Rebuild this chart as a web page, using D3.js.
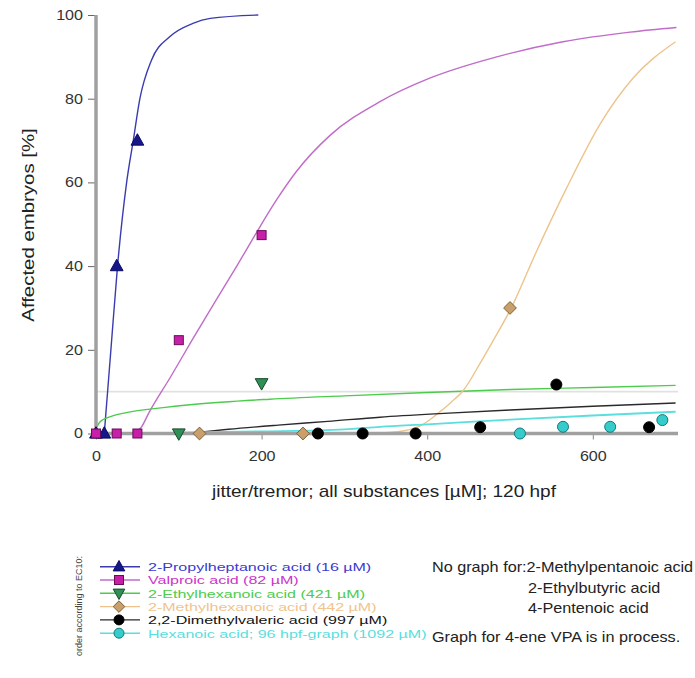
<!DOCTYPE html>
<html>
<head>
<meta charset="utf-8">
<script src="https://cdn.jsdelivr.net/npm/d3@7"></script>
<style>
  html, body { margin: 0; padding: 0; background: #fff; }
  svg { display: block; font-family: "Liberation Sans", Arial, sans-serif; }
</style>
</head>
<body>
<svg id="chart" width="695" height="678"></svg>
<script>
// ---- data -------------------------------------------------------------
const seriesNames = [
  "2-Propylheptanoic acid (16 µM)",
  "Valproic acid (82 µM)",
  "2-Ethylhexanoic acid (421 µM)",
  "2-Methylhexanoic acid (442 µM)",
  "2,2-Dimethylvaleric acid (997 µM)",
  "Hexanoic acid; 96 hpf-graph (1092 µM)"
];
const xTicks = [0, 200, 400, 600];
const yTicks = [0, 20, 40, 60, 80, 100];
const thresholdLevel = 10;

// measured responses (concentration µM, affected %)
const propylX = [0, 10, 25, 50];
const propylY = [0, 0, 40, 70];
const valproicX = [0, 25, 50, 100, 200];
const valproicY = [0, 0, 0, 22.3, 47.4];
const ethylhexX = [100, 200];
const ethylhexY = [0, 12];
const methylhexX = [125, 250, 500];
const methylhexY = [0, 0, 30];
const dimethylX = [268, 322, 386, 464, 556, 668];
const dimethylY = [0, 0, 0, 1.5, 11.7, 1.5];
const hexanoicX = [512, 564, 621, 684];
const hexanoicY = [0, 1.6, 1.6, 3.2];

// fitted concentration-response curves
const propylFitX = [10, 18, 26, 37, 45, 53, 67, 89, 117, 138, 196];
const propylFitY = [0, 20, 40, 60, 70, 80, 89.2, 94.8, 98, 99.2, 100];
const valproicFitX = [45, 55, 64, 90, 116, 143, 170, 192, 218, 242, 283, 343, 403, 484, 564, 645, 701];
const valproicFitY = [0, 1.6, 5, 13.5, 22.3, 31.2, 40, 47.4, 55.8, 62.6, 71.3, 79.3, 84.9, 90, 93.6, 95.9, 97];
const ethylhexFitX = [1, 5, 20, 40, 73, 120, 210, 300, 400, 500, 600, 700];
const ethylhexFitY = [1.6, 2.8, 4.2, 5.1, 6.0, 7.0, 8.2, 9.0, 9.8, 10.5, 11.0, 11.5];
const methylhexFitX = [340, 370, 395, 411, 428, 444, 464, 480, 501, 532, 568, 609, 649, 700];
const methylhexFitY = [0.1, 0.6, 2.2, 4.5, 7.3, 10.4, 16.8, 22.3, 29.8, 43.5, 58.5, 74, 85, 93.6];
const dimethylFitX = [120, 160, 220, 280, 343, 420, 500, 600, 700];
const dimethylFitY = [0.2, 1.0, 2.0, 2.9, 3.9, 4.8, 5.6, 6.5, 7.3];
const hexanoicFitX = [100, 200, 300, 343, 400, 500, 600, 700];
const hexanoicFitY = [0.2, 0.5, 1.0, 1.6, 2.2, 3.3, 4.3, 5.2];

const notes = [
  "No graph for:2-Methylpentanoic acid",
  "2-Ethylbutyric acid",
  "4-Pentenoic acid",
  "Graph for 4-ene VPA is in process."
];

// ---- styling per series --------------------------------------------------
const styles = [
  { shape: "tri",    fill: "#17178c", stroke: "#0a0a60", line: "#3b3bb0", text: "#3a3ad0" },
  { shape: "square", fill: "#c81fa8", stroke: "#6a0a5a", line: "#c06cc8", text: "#cc33cc" },
  { shape: "tridown",fill: "#2f8f55", stroke: "#164a2a", line: "#4ccc4c", text: "#4ccc4c" },
  { shape: "diamond",fill: "#c9a06c", stroke: "#7e5f38", line: "#ecc48c", text: "#f0c48c" },
  { shape: "circle", fill: "#000000", stroke: "#000000", line: "#2a2a2a", text: "#111111" },
  { shape: "circle", fill: "#36cccc", stroke: "#137878", line: "#5adede", text: "#5adede" }
];

const zip = (xs, ys) => xs.map((v, i) => [v, ys[i]]);
const points = [
  zip(propylX, propylY), zip(valproicX, valproicY), zip(ethylhexX, ethylhexY),
  zip(methylhexX, methylhexY), zip(dimethylX, dimethylY), zip(hexanoicX, hexanoicY)
];
const fits = [
  zip(propylFitX, propylFitY), zip(valproicFitX, valproicFitY), zip(ethylhexFitX, ethylhexFitY),
  zip(methylhexFitX, methylhexFitY), zip(dimethylFitX, dimethylFitY), zip(hexanoicFitX, hexanoicFitY)
];

// ---- layout -------------------------------------------------------------
const svg = d3.select("#chart");
const x = d3.scaleLinear().domain([0, 700]).range([96, 675.6]);
const y = d3.scaleLinear().domain([0, 100]).range([433.5, 15]);
const axisEnd = 678;

// widen text horizontally around its anchor point
function widen(sel, k) {
  sel.each(function () {
    const t = d3.select(this);
    const tx = +t.attr("x") || 0, ty = +t.attr("y") || 0;
    t.attr("transform", `translate(${tx},${ty}) scale(${k},1) translate(${-tx},${-ty})`);
  });
}

function marker(g, shape, size) {
  const s = size;
  if (shape === "tri") {
    g.append("path").attr("d", `M0,${-s * 0.62}L${s * 0.58},${s * 0.42}L${-s * 0.58},${s * 0.42}Z`);
  } else if (shape === "tridown") {
    g.append("path").attr("d", `M0,${s * 0.62}L${s * 0.58},${-s * 0.42}L${-s * 0.58},${-s * 0.42}Z`);
  } else if (shape === "square") {
    g.append("rect").attr("x", -s * 0.45).attr("y", -s * 0.45).attr("width", s * 0.9).attr("height", s * 0.9);
  } else if (shape === "diamond") {
    g.append("path").attr("d", `M0,${-s * 0.58}L${s * 0.58},0L0,${s * 0.58}L${-s * 0.58},0Z`);
  } else {
    g.append("circle").attr("r", s * 0.5);
  }
}

// threshold reference line at 10 %
svg.append("line")
  .attr("x1", x(0)).attr("x2", axisEnd)
  .attr("y1", y(thresholdLevel)).attr("y2", y(thresholdLevel))
  .attr("stroke", "#dde3dd").attr("stroke-width", 1.6);

// fitted curves
const lineGen = d3.line().x(d => x(d[0])).y(d => y(d[1])).curve(d3.curveMonotoneX);
svg.append("g").selectAll("path").data(fits).join("path")
  .attr("d", lineGen)
  .attr("fill", "none")
  .attr("stroke", (d, i) => styles[i].line)
  .attr("stroke-width", (d, i) => i === 5 ? 1.8 : 1.4);

// axes
const yAxis = svg.append("g").attr("transform", `translate(${x(0)},0)`)
  .call(d3.axisLeft(y).tickValues(yTicks).tickSize(8).tickPadding(5));
yAxis.select(".domain").remove();
yAxis.selectAll(".tick line").attr("stroke", "#666");
yAxis.selectAll("text").attr("font-size", 14).attr("fill", "#333")
  .attr("font-family", "Liberation Sans, Arial, sans-serif");
widen(yAxis.selectAll("text"), 1.15);

const xAxis = svg.append("g").attr("transform", `translate(0,${y(0)})`)
  .call(d3.axisBottom(x).tickValues(xTicks).tickSize(6).tickPadding(12));
xAxis.select(".domain").remove();
xAxis.selectAll(".tick line").attr("stroke", "#888");
xAxis.selectAll("text").attr("font-size", 14).attr("fill", "#333")
  .attr("font-family", "Liberation Sans, Arial, sans-serif");
widen(xAxis.selectAll("text"), 1.15);

svg.append("line").attr("x1", x(0)).attr("x2", x(0)).attr("y1", y(100)).attr("y2", y(0) + 1.5)
  .attr("stroke", "#a0a0a0").attr("stroke-width", 3.5);
svg.append("line").attr("x1", x(0) - 1.5).attr("x2", axisEnd).attr("y1", y(0)).attr("y2", y(0))
  .attr("stroke", "#a0a0a0").attr("stroke-width", 3.5);

// data points
points.forEach((pts, i) => {
  const st = styles[i];
  pts.forEach(p => {
    const g = svg.append("g")
      .attr("transform", `translate(${x(p[0])},${y(p[1])})`)
      .attr("fill", st.fill).attr("stroke", st.stroke).attr("stroke-width", 1);
    marker(g, st.shape, st.shape === "square" ? 10 : 11);
  });
});

// axis titles
svg.append("text")
  .attr("transform", "translate(34,225) rotate(-90) scale(1.2,1)")
  .attr("text-anchor", "middle")
  .attr("font-size", 17).attr("fill", "#222")
  .text("Affected embryos [%]");
svg.append("text")
  .attr("x", 384).attr("y", 497)
  .attr("text-anchor", "middle")
  .attr("font-size", 17).attr("fill", "#222")
  .text("jitter/tremor; all substances [µM]; 120 hpf")
  .call(widen, 1.12);

// legend
const legend = svg.append("g");
seriesNames.forEach((name, i) => {
  const st = styles[i];
  const cy = 566.7 + i * 13.3;
  legend.append("line").attr("x1", 100).attr("x2", 140).attr("y1", cy).attr("y2", cy)
    .attr("stroke", st.line).attr("stroke-width", 1.4);
  const g = legend.append("g").attr("transform", `translate(119,${cy})`)
    .attr("fill", st.fill).attr("stroke", st.stroke).attr("stroke-width", 1);
  marker(g, st.shape, 10);
  legend.append("text").attr("x", 148).attr("y", cy + 4.5)
    .attr("font-size", 11.8).attr("fill", st.text)
    .text(name)
    .call(widen, 1.36);
});
svg.append("text")
  .attr("transform", "translate(82,606) rotate(-90)")
  .attr("text-anchor", "middle")
  .attr("font-size", 9).attr("fill", "#444")
  .text("order according to EC10:");

// notes
const notePos = [[432, 567], [528, 588], [528, 608], [432, 637]];
notes.forEach((t, i) => {
  svg.append("text").attr("x", notePos[i][0]).attr("y", notePos[i][1] + 5)
    .attr("font-size", 15).attr("fill", "#222")
    .text(t)
    .call(widen, 1.08);
});
</script>
</body>
</html>
